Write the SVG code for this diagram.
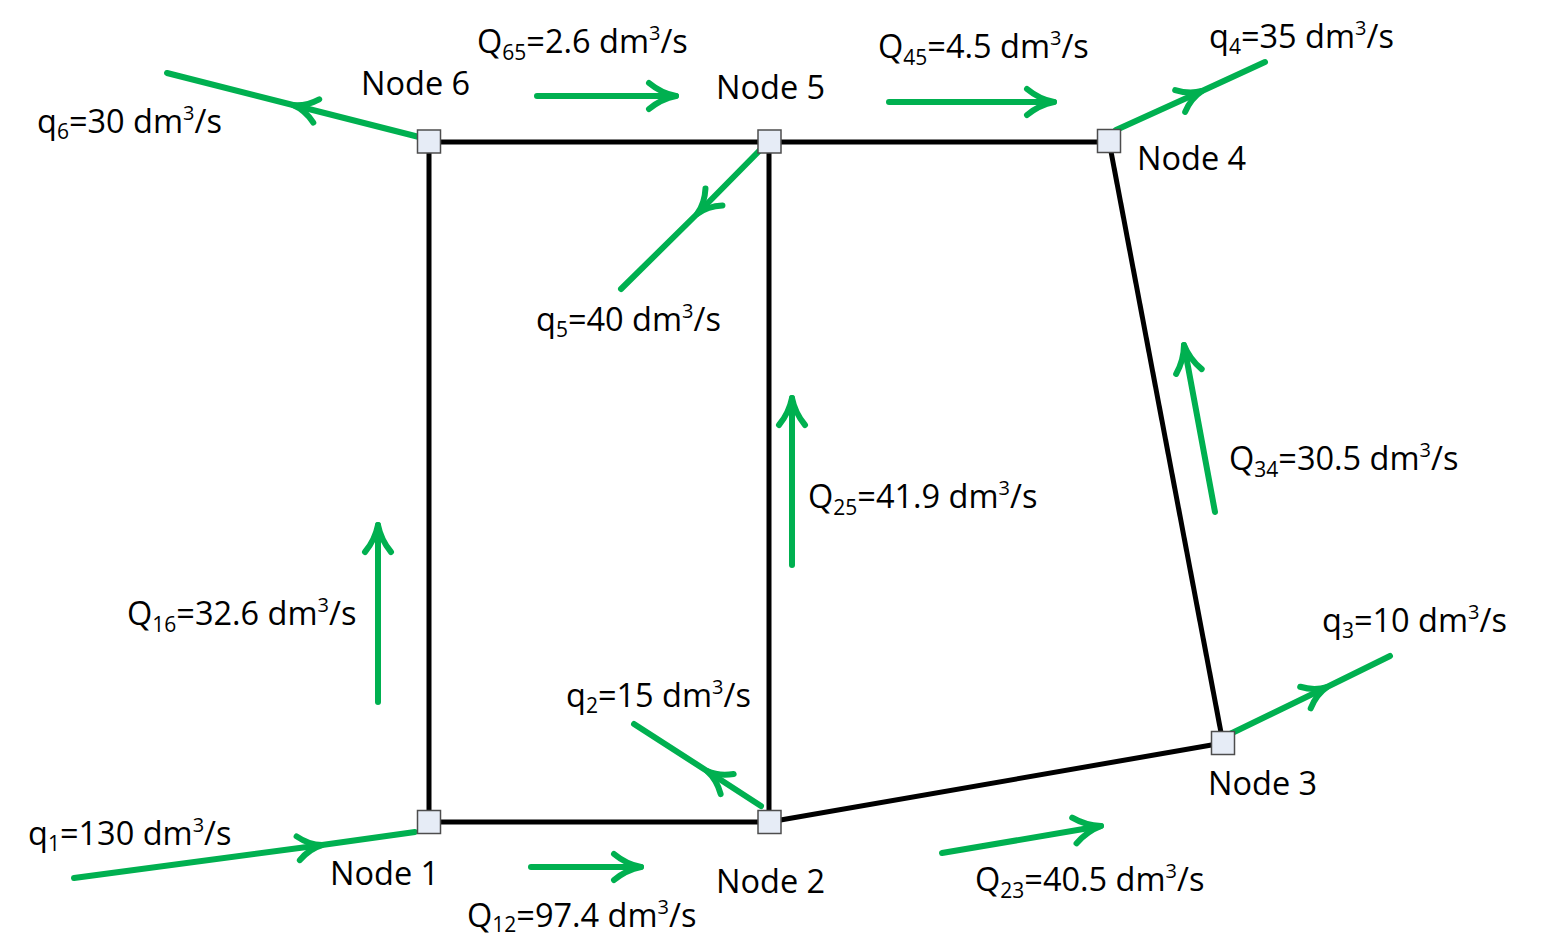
<svg xmlns="http://www.w3.org/2000/svg" width="1549" height="937" viewBox="0 0 1549 937">
<style>
text { font-family: "Open Sans", "Liberation Sans", sans-serif; font-size: 32.5px; fill: #000; }
.sub { font-size: 21px; }
.sup { font-size: 20px; }
.pipe { stroke: #000; stroke-width: 5; fill: none; }
.flow { stroke: #00B050; stroke-width: 6; fill: none; stroke-linecap: round; }
.node { fill: #E6ECF6; stroke: #4D4D4D; stroke-width: 1.5; }
</style>
<defs>
<marker id="ah" markerUnits="userSpaceOnUse" markerWidth="40" markerHeight="40" viewBox="-32 -20 40 40" refX="0" refY="0" orient="auto" overflow="visible">
<path d="M -27,-13 Q -15,-3 0,0 Q -15,3 -27,13" stroke="#00B050" stroke-width="6" fill="none" stroke-linecap="round" stroke-linejoin="round"/>
</marker>
<marker id="mh" markerUnits="userSpaceOnUse" markerWidth="40" markerHeight="40" viewBox="-32 -20 40 40" refX="0" refY="0" orient="auto" overflow="visible">
<path d="M -24,-12 Q -13,-2 0,0 Q -13,2 -24,12" stroke="#00B050" stroke-width="6" fill="none" stroke-linecap="round" stroke-linejoin="round"/>
</marker>
</defs>
<rect x="0" y="0" width="1549" height="937" fill="#fff"/>
<g id="connectors">
<line class="pipe" x1="429" y1="142" x2="769" y2="142"/>
<line class="pipe" x1="769" y1="142" x2="1109" y2="142"/>
<line class="pipe" x1="429" y1="142" x2="429" y2="822"/>
<line class="pipe" x1="769" y1="142" x2="769" y2="822"/>
<line class="pipe" x1="429" y1="822" x2="769" y2="822"/>
<line class="pipe" x1="769" y1="822" x2="1223" y2="743"/>
<line class="pipe" x1="1109" y1="141" x2="1223" y2="743"/>
<path class="flow" d="M 423,138 L 293,105 L 167,73" marker-mid="url(#mh)"/>
<path class="flow" d="M 762,148 L 697,214 L 621,289" marker-mid="url(#mh)"/>
<path class="flow" d="M 1116,130 L 1202,91 L 1265,62" marker-mid="url(#mh)"/>
<path class="flow" d="M 1230,734 L 1327,687 L 1390,656" marker-mid="url(#mh)"/>
<path class="flow" d="M 761,806 L 707,771 L 634,724" marker-mid="url(#mh)"/>
<path class="flow" d="M 74,878 L 322,845 L 415,832" marker-mid="url(#mh)"/>
<line class="flow" x1="537" y1="96" x2="676" y2="96" marker-end="url(#ah)"/>
<line class="flow" x1="889" y1="102" x2="1054" y2="102" marker-end="url(#ah)"/>
<line class="flow" x1="531" y1="867" x2="641" y2="867" marker-end="url(#ah)"/>
<line class="flow" x1="942" y1="853" x2="1101" y2="826" marker-end="url(#ah)"/>
<line class="flow" x1="378" y1="702" x2="378" y2="525" marker-end="url(#ah)"/>
<line class="flow" x1="792" y1="565" x2="792" y2="398" marker-end="url(#ah)"/>
<line class="flow" x1="1215" y1="512" x2="1184" y2="345" marker-end="url(#ah)"/>
</g>
<g id="labels">
<text x="37" y="133">q<tspan class="sub" dy="6">6</tspan><tspan dy="-6">=30 dm</tspan><tspan class="sup" dy="-13">3</tspan><tspan dy="13">/s</tspan></text>
<text x="477" y="53">Q<tspan class="sub" dy="7">65</tspan><tspan dy="-7">=2.6 dm</tspan><tspan class="sup" dy="-13">3</tspan><tspan dy="13">/s</tspan></text>
<text x="878" y="58">Q<tspan class="sub" dy="7">45</tspan><tspan dy="-7">=4.5 dm</tspan><tspan class="sup" dy="-13">3</tspan><tspan dy="13">/s</tspan></text>
<text x="1209" y="48">q<tspan class="sub" dy="6">4</tspan><tspan dy="-6">=35 dm</tspan><tspan class="sup" dy="-13">3</tspan><tspan dy="13">/s</tspan></text>
<text x="536" y="331">q<tspan class="sub" dy="6">5</tspan><tspan dy="-6">=40 dm</tspan><tspan class="sup" dy="-13">3</tspan><tspan dy="13">/s</tspan></text>
<text x="1229" y="470">Q<tspan class="sub" dy="7">34</tspan><tspan dy="-7">=30.5 dm</tspan><tspan class="sup" dy="-13">3</tspan><tspan dy="13">/s</tspan></text>
<text x="808" y="508">Q<tspan class="sub" dy="7">25</tspan><tspan dy="-7">=41.9 dm</tspan><tspan class="sup" dy="-13">3</tspan><tspan dy="13">/s</tspan></text>
<text x="127" y="625">Q<tspan class="sub" dy="7">16</tspan><tspan dy="-7">=32.6 dm</tspan><tspan class="sup" dy="-13">3</tspan><tspan dy="13">/s</tspan></text>
<text x="1322" y="632">q<tspan class="sub" dy="6">3</tspan><tspan dy="-6">=10 dm</tspan><tspan class="sup" dy="-13">3</tspan><tspan dy="13">/s</tspan></text>
<text x="566" y="707">q<tspan class="sub" dy="6">2</tspan><tspan dy="-6">=15 dm</tspan><tspan class="sup" dy="-13">3</tspan><tspan dy="13">/s</tspan></text>
<text x="28" y="845">q<tspan class="sub" dy="6">1</tspan><tspan dy="-6">=130 dm</tspan><tspan class="sup" dy="-13">3</tspan><tspan dy="13">/s</tspan></text>
<text x="975" y="891">Q<tspan class="sub" dy="7">23</tspan><tspan dy="-7">=40.5 dm</tspan><tspan class="sup" dy="-13">3</tspan><tspan dy="13">/s</tspan></text>
<text x="467" y="927">Q<tspan class="sub" dy="5">12</tspan><tspan dy="-5">=97.4 dm</tspan><tspan class="sup" dy="-13">3</tspan><tspan dy="13">/s</tspan></text>
</g>
<g id="node1"><rect class="node" x="417.5" y="810.5" width="23" height="23"/><text x="330" y="885">Node 1</text></g>
<g id="node2"><rect class="node" x="758" y="810.5" width="23" height="23"/><text x="716" y="893">Node 2</text></g>
<g id="node3"><rect class="node" x="1211.5" y="731.5" width="23" height="23"/><text x="1208" y="795">Node 3</text></g>
<g id="node4"><rect class="node" x="1097.5" y="129.5" width="23" height="23"/><text x="1137" y="170">Node 4</text></g>
<g id="node5"><rect class="node" x="758" y="130" width="23" height="23"/><text x="716" y="99">Node 5</text></g>
<g id="node6"><rect class="node" x="417.5" y="130" width="23" height="23"/><text x="361" y="95">Node 6</text></g>
</svg>
